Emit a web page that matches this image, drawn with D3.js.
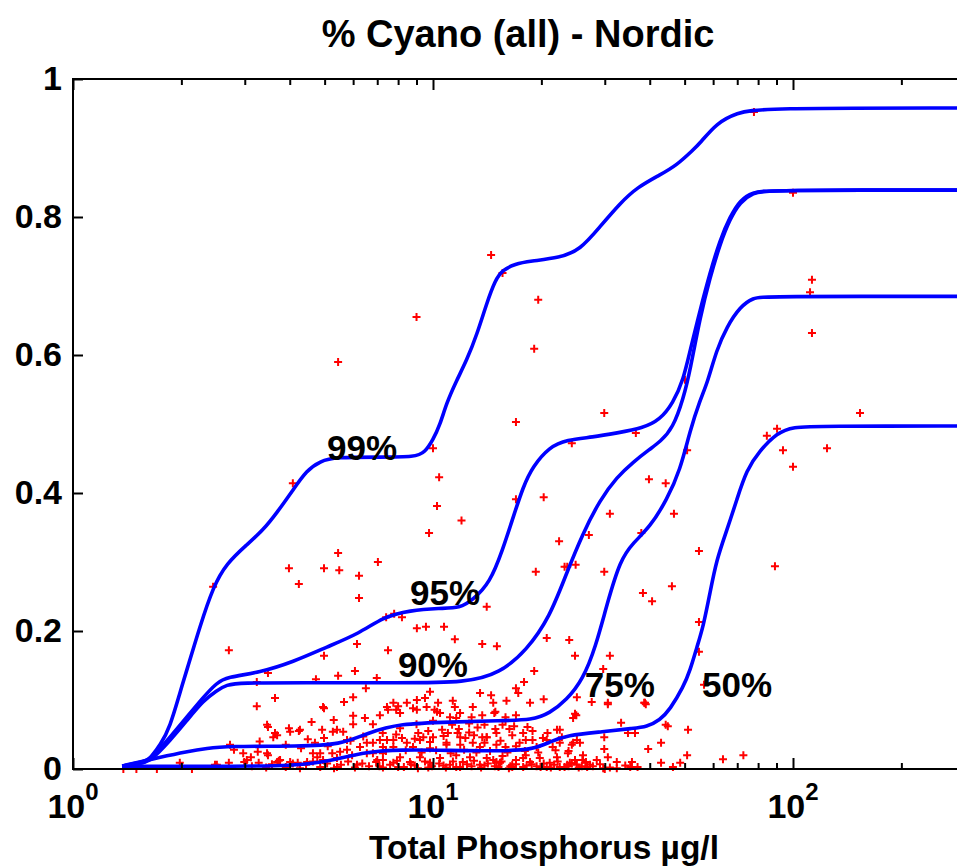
<!DOCTYPE html>
<html><head><meta charset="utf-8">
<script src="https://cdn.jsdelivr.net/npm/d3@7"></script>
<style>
body{margin:0;background:#fff}
svg{display:block}
text{font-family:"Liberation Sans",Arial,Helvetica,sans-serif;font-weight:bold;fill:#000}
</style>
</head><body>
<svg id="chart" width="957" height="868"></svg>
<script>
// ---------------- data ----------------
const chartTitle = "% Cyano (all) - Nordic";
const xAxisLabel = "Total Phosphorus µg/l";
const xMajorTicks = [1, 10, 100];
const xTickExponents = ["0", "1", "2"];
const xMinorTicks = [2,3,4,5,6,7,8,9,20,30,40,50,60,70,80,90,200,300];
const yTicks = [0, 0.2, 0.4, 0.6, 0.8, 1];
const yTickLabels = ["0", "0.2", "0.4", "0.6", "0.8", "1"];
const quantileNames = ["99%", "95%", "90%", "75%", "50%"];

// quantile curves: [total phosphorus, fraction cyano]
const q99 = [[1.37,0.004],[1.49,0.007],[1.59,0.01],[1.64,0.016],[1.75,0.035],[1.86,0.061],[1.98,0.11],[2.07,0.143],[2.25,0.206],[2.45,0.264],[2.67,0.298],[3.04,0.325],[3.37,0.346],[3.68,0.371],[4.08,0.404],[4.46,0.433],[4.86,0.446],[5.34,0.452],[7.12,0.452],[8.93,0.452],[9.5,0.459],[10.0,0.477],[10.46,0.499],[10.9,0.53],[11.6,0.562],[12.4,0.592],[13.25,0.63],[14.1,0.675],[14.9,0.709],[15.6,0.723],[16.9,0.732],[18.6,0.736],[22.5,0.741],[25.6,0.752],[29.1,0.786],[33.1,0.82],[36.9,0.843],[42.7,0.861],[47.5,0.875],[52.7,0.897],[55.2,0.907],[61.3,0.936],[69.8,0.951],[81,0.958],[300,0.958]];
const q95 = [[1.37,0.004],[1.54,0.01],[1.64,0.013],[1.86,0.046],[2.07,0.075],[2.3,0.104],[2.51,0.125],[2.67,0.133],[3.31,0.14],[4.08,0.155],[5.08,0.177],[6.27,0.197],[7.26,0.22],[8.63,0.23],[10.46,0.233],[11.89,0.233],[12.9,0.245],[14.4,0.27],[15.6,0.317],[16.7,0.365],[17.8,0.409],[18.9,0.438],[21.1,0.467],[23.5,0.477],[27.8,0.481],[32.4,0.487],[38.3,0.494],[42.7,0.506],[46.4,0.53],[49.6,0.564],[51.8,0.607],[55.2,0.665],[58.8,0.719],[62.7,0.767],[66.8,0.8],[71.3,0.825],[77.5,0.836],[84.6,0.839],[300,0.839]];
const q90 = [[1.37,0.004],[1.54,0.008],[1.64,0.011],[1.86,0.041],[2.07,0.07],[2.3,0.099],[2.51,0.114],[2.67,0.122],[2.91,0.125],[4.27,0.125],[8.1,0.125],[12.4,0.125],[15.35,0.139],[18.2,0.172],[21.1,0.22],[23.5,0.284],[26.1,0.342],[29.1,0.39],[32.4,0.423],[36.0,0.445],[40.1,0.464],[42.7,0.474],[46.4,0.494],[49.6,0.537],[51.8,0.578],[55.2,0.655],[58.8,0.712],[62.7,0.761],[66.8,0.797],[71.3,0.822],[77.5,0.835],[84.6,0.839],[300,0.839]];
const q75 = [[1.37,0.004],[1.41,0.006],[1.75,0.017],[2.07,0.025],[2.36,0.03],[2.67,0.033],[4.27,0.033],[5.52,0.035],[6.56,0.052],[8.1,0.066],[11.15,0.068],[15.35,0.07],[18.9,0.071],[21.1,0.081],[23.5,0.1],[26.1,0.13],[28.3,0.177],[30.4,0.238],[33.1,0.303],[36.0,0.328],[40.1,0.351],[44.6,0.39],[48.6,0.433],[51.8,0.491],[55.2,0.535],[57.8,0.559],[61.3,0.607],[65.5,0.641],[71.3,0.67],[77.5,0.683],[83.6,0.685],[300,0.685]];
const q50 = [[1.37,0.004],[2.25,0.004],[4.27,0.004],[5.27,0.013],[6.56,0.025],[8.1,0.028],[11.15,0.027],[15.35,0.026],[18.9,0.028],[21.1,0.039],[23.5,0.049],[29.7,0.054],[36.0,0.059],[39.2,0.061],[42.7,0.071],[45.5,0.086],[49.6,0.119],[51.8,0.143],[54.1,0.177],[56.3,0.206],[58.8,0.255],[61.3,0.303],[65.5,0.346],[69.8,0.39],[74.2,0.433],[81,0.462],[90.3,0.487],[100,0.496],[118.9,0.497],[300,0.497]];
const quantileCurves = [q99, q95, q90, q75, q50];
// where each quantile label sits: [total phosphorus, fraction] of its left baseline
const quantileLabelAt = [[5.08,0.448],[8.63,0.238],[7.99,0.133],[26.4,0.104],[55.9,0.104]];

// lake samples: [total phosphorus µg/l, fraction cyano]
const samples = [
[14.5,0.745],[9.0,0.655],[5.45,0.59],[19.6,0.68],[19.1,0.609],[17.0,0.503],[10.4,0.423],[17.0,0.391],[20.3,0.394],[10.26,0.381],
[12.0,0.36],[9.75,0.342],[22.4,0.33],[4.08,0.414],[5.45,0.313],[7.03,0.3],[3.98,0.291],[4.98,0.291],[5.49,0.288],[6.23,0.28],
[4.24,0.268],[6.23,0.248],[19.3,0.286],[23.6,0.293],[24.9,0.296],[14.1,0.235],[7.41,0.22],[7.8,0.225],[8.2,0.22],[9.02,0.204],
[9.56,0.206],[10.73,0.206],[29.9,0.516],[39.8,0.42],[44.3,0.414],[50.8,0.462],[31.0,0.37],[37.9,0.342],[29.9,0.286],[46.1,0.265],
[38.3,0.255],[40.6,0.243],[11.5,0.188],[13.7,0.181],[15.05,0.178],[7.5,0.172],[6.15,0.181],[4.98,0.164],[5.45,0.135],[4.73,0.13],
[6.07,0.142],[6.98,0.132],[20.7,0.19],[23.9,0.187],[24.8,0.164],[19.1,0.142],[29.7,0.145],[31.0,0.164],[27.6,0.097],[38.8,0.096],
[33.3,0.067],[51.1,0.057],[44.3,0.064],[2.71,0.172],[3.48,0.139],[3.24,0.126],[6.51,0.117],[6.0,0.104],[5.66,0.097],[3.64,0.103],
[3.24,0.091],[4.98,0.088],[6.0,0.077],[6.47,0.074],[6.0,0.065],[6.81,0.065],[7.12,0.078],[3.48,0.061],[3.98,0.059],[4.24,0.055],
[3.69,0.049],[4.49,0.043],[4.98,0.045],[5.41,0.057],[5.63,0.054],[2.73,0.035],[2.97,0.023],[3.12,0.017],[3.26,0.025],[3.48,0.02],
[3.76,0.013],[2.99,0.01],[4.01,0.01],[4.21,0.009],[4.47,0.01],[4.64,0.023],[4.77,0.017],[4.95,0.013],[5.25,0.023],[5.41,0.016],
[5.77,0.028],[5.96,0.02],[6.27,0.032],[6.55,0.023],[6.81,0.038],[7.12,0.042],[7.26,0.023],[7.0,0.013],[6.15,0.006],[5.41,0.003],
[2.48,0.006],[2.71,0.009],[1.38,0],[1.5,0],[1.71,0],[1.98,0.009],[2.51,0.006],[3.04,0.013],[3.69,0.01],[2.14,0],
[3.46,0.064],[3.64,0.052],[3.6,0.046],[4.27,0.057],[4.95,0.09],[4.92,0.057],[7.45,0.09],[8.1,0.081],[8.46,0.096],[9.02,0.086],
[9.6,0.09],[10.26,0.083],[11.15,0.075],[11.89,0.081],[12.9,0.09],[13.7,0.078],[14.7,0.096],[7.9,0.086],[5.27,0.054],[4.01,0.054],
[3.46,0.023],[4.86,0.023],[5.52,0.025],[5.77,0.042],[6.55,0.038],[6.81,0.023],[7.26,0.032],[7.76,0.042],[8.46,0.038],[9.2,0.042],
[10.0,0.046],[10.9,0.038],[11.9,0.046],[12.9,0.038],[14.1,0.046],
[17.9,0.126],[17.0,0.117],[17.25,0.11],[9.81,0.112],[13.51,0.11],[14.5,0.107],[16.0,0.099],[18.6,0.096],[20.3,0.101],[25.1,0.104],
[9.5,0.103],[9.02,0.1],[11.35,0.099],[7.76,0.096],[8.8,0.088],[10.33,0.096],[10.46,0.081],[10.1,0.086],[11.5,0.09],[11.6,0.074],
[12.8,0.075],[14.9,0.083],[7.5,0.086],[8.0,0.091],[15.9,0.071],[17.0,0.078],[22.1,0.057],[18.3,0.061],[25.0,0.078],[7.25,0.052],
[8.1,0.059],[9.1,0.052],[7.45,0.042],[8.2,0.045],[9.4,0.046],[9.81,0.039],[10.6,0.057],[11.0,0.052],[11.7,0.052],[12.3,0.045],
[13.0,0.049],[14.1,0.046],[15.0,0.052],[16.6,0.049],[18.1,0.042],[20.2,0.045],[22.5,0.038],[25.1,0.042],[7.76,0.032],[8.8,0.032],
[9.81,0.03],[10.9,0.035],[11.9,0.035],[13.5,0.032],[15.0,0.035],[15.9,0.032],[17.0,0.033],[19.4,0.032],[21.5,0.032],[24.5,0.038],
[7.26,0.013],[7.76,0.009],[8.1,0.017],[8.63,0.01],[9.2,0.017],[9.81,0.009],[10.46,0.016],[11.15,0.006],[11.6,0.02],[12.1,0.01],
[12.67,0.017],[13.5,0.006],[14.1,0.016],[15.0,0.01],[15.6,0.019],[16.4,0.004],[17.0,0.013],[18.1,0.02],[18.8,0.007],[19.8,0.016],
[21.1,0.009],[22.1,0.017],[23.6,0.006],[24.8,0.013],[26.1,0.02],[27.3,0.006],
[3.14,0.004],[3.28,0.009],[3.44,0.002],[3.57,0.007],[3.73,0.012],[3.9,0.003],[4.08,0.008],[4.27,0.001],[4.44,0.006],[4.64,0.011],
[4.86,0.003],[5.08,0.008],[5.31,0.001],[5.55,0.006],[5.81,0.011],[6.07,0.002],[6.36,0.008],[6.64,0.004],[6.95,0.01],[7.26,0.002],
[7.6,0.006],[7.94,0.012],[8.3,0.003],[8.68,0.007],[9.08,0.001],[9.5,0.011],[9.94,0.004],[10.4,0.008],[10.86,0.002],[11.36,0.011],
[11.89,0.003],[12.43,0.007],[13.0,0.012],[13.6,0.002],[14.2,0.008],[14.85,0.004],[15.5,0.011],[16.25,0.001],[17.0,0.007],[17.8,0.003],
[18.6,0.01],[19.4,0.004],[20.3,0.008],[21.25,0.002],[22.2,0.011],[23.2,0.003],[24.3,0.008],[25.4,0.002],[26.6,0.01],[27.8,0.004],
[29.1,0.007],[31.0,0.002],[34.2,0.005],
[30.6,0.094],[39.0,0.094],[24.8,0.08],[24.5,0.074],[44.9,0.062],[34.8,0.052],[36.4,0.052],[25.6,0.038],[24.3,0.035],[43.0,0.038],
[29.9,0.029],[39.6,0.029],[50.8,0.02],[72.8,0.02],[63.9,0.014],[26.0,0.013],[30.6,0.017],[32.4,0.01],[35.7,0.01],[43.0,0.009],
[48.6,0.009],[24.0,0.009],[25.1,0.006],[26.8,0.003],[30.0,0],[35.3,0.003],[37.0,0.003],[46.4,0.003],[29.9,0.046],[30.6,0.096],
[38.6,0.096],[22.5,0.057],[20.7,0.042],[18.9,0.042],[17.8,0.052],[15.9,0.075],[14.8,0.081],[13.9,0.064],[13.7,0.046],[23.7,0.023],
[28.5,0.013],[26.5,0.009],[14.7,0.013],[15.35,0.009],[16.6,0.003],[17.8,0.016],[20.7,0.003],[22.5,0.003],[29.7,0.001],[32.4,0.001],
[112.9,0.709],[111.5,0.691],[112.9,0.632],[153.5,0.516],[84.6,0.483],[90.3,0.493],[93.8,0.462],[124.3,0.465],[100,0.438],[77.9,0.952],
[100,0.835],[89.1,0.294],[54.8,0.213],[54.8,0.17],[56.6,0.122],[54.8,0.316],[46.7,0.37],[36.6,0.487],[24.3,0.472],[27.1,0.339],
[23.2,0.293],[50.1,0.564],[15.6,0.719],[10.0,0.465],[2.45,0.264],
[7.4,0.026],[7.9,0.05],[8.4,0.027],[8.9,0.044],[9.3,0.024],[9.7,0.055],[10.2,0.027],[10.7,0.048],[11.2,0.023],[11.8,0.058],
[12.2,0.028],[12.6,0.053],[13.2,0.024],[13.9,0.038],[14.4,0.026],[14.9,0.058],[15.4,0.041],[16.1,0.024],[16.8,0.062],[17.4,0.038],
[18.0,0.026],[18.9,0.055],[19.6,0.024],[20.8,0.052],[21.9,0.027],[22.8,0.046],[23.8,0.026],[9.0,0.065],[10.0,0.07],[11.3,0.064],
[12.6,0.066],[13.3,0.06],[15.6,0.064],[16.3,0.058],
[7.1,0.004],[8.0,0.003],[8.9,0.005],[9.7,0.002],[10.7,0.005],[11.6,0.003],[12.8,0.004],[13.9,0.005],[15.2,0.003],[16.6,0.006],
[18.2,0.005],[19.9,0.003],[21.7,0.006],[23.8,0.004],[25.9,0.004],
[3.9,0.035],[4.3,0.03],[4.7,0.038],[5.1,0.033],[5.9,0.041],[6.4,0.047],[3.3,0.04],[2.8,0.028],[5.3,0.071],[4.6,0.068]
];

// ---------------- drawing ----------------
const svg = d3.select("#chart");
svg.append("rect").attr("width", 957).attr("height", 868).attr("fill", "#fff");

const x = d3.scaleLog().domain([1, 300]).range([73, 73 + 360 * Math.log10(300)]);
const y = d3.scaleLinear().domain([0, 1]).range([769, 79]);
const [x0, x1] = x.range();
const [yb, yt] = y.range();

svg.append("defs").append("clipPath").attr("id", "plotClip")
  .append("rect").attr("x", x0).attr("y", yt).attr("width", x1 - x0).attr("height", yb - yt);

// samples (red plus signs)
const plus = "M-4,0H4M0,-4V4";
svg.append("g").selectAll("path").data(samples).join("path")
  .attr("d", plus)
  .attr("transform", d => `translate(${x(d[0])},${y(d[1])})`)
  .attr("stroke", "#ff0000").attr("stroke-width", 2).attr("fill", "none");

// quantile curves
const line = d3.line().x(d => x(d[0])).y(d => y(d[1])).curve(d3.curveBasis);
svg.append("g").attr("clip-path", "url(#plotClip)")
  .selectAll("path").data(quantileCurves).join("path")
  .attr("d", line)
  .attr("fill", "none").attr("stroke", "#0000ff").attr("stroke-width", 3.6)
  .attr("stroke-linejoin", "round");

// quantile labels
svg.append("g").selectAll("text").data(quantileNames).join("text")
  .attr("x", (d, i) => x(quantileLabelAt[i][0]))
  .attr("y", (d, i) => y(quantileLabelAt[i][1]))
  .attr("font-size", 35)
  .text(d => d);

// axes box
svg.append("rect").attr("x", x0).attr("y", yt).attr("width", x1 - x0).attr("height", yb - yt)
  .attr("fill", "none").attr("stroke", "#000").attr("stroke-width", 2);

function styleAxis(g) {
  g.select(".domain").remove();
  g.selectAll(".tick line").attr("stroke", "#000").attr("stroke-width", 2);
}
// x major/minor ticks, bottom and top
svg.append("g").attr("transform", `translate(0,${yb})`)
  .call(d3.axisBottom(x).tickValues(xMajorTicks).tickSizeInner(-11).tickSizeOuter(0).tickFormat(""))
  .call(styleAxis);
svg.append("g").attr("transform", `translate(0,${yb})`)
  .call(d3.axisBottom(x).tickValues(xMinorTicks).tickSizeInner(-6).tickSizeOuter(0).tickFormat(""))
  .call(styleAxis);
svg.append("g").attr("transform", `translate(0,${yt})`)
  .call(d3.axisTop(x).tickValues(xMajorTicks).tickSizeInner(-11).tickSizeOuter(0).tickFormat(""))
  .call(styleAxis);
svg.append("g").attr("transform", `translate(0,${yt})`)
  .call(d3.axisTop(x).tickValues(xMinorTicks).tickSizeInner(-6).tickSizeOuter(0).tickFormat(""))
  .call(styleAxis);
// y ticks
const yAxis = svg.append("g").attr("transform", `translate(${x0},0)`)
  .call(d3.axisLeft(y).tickValues(yTicks).tickSizeInner(-10).tickSizeOuter(0).tickPadding(11)
        .tickFormat((d, i) => yTickLabels[i]))
  .call(styleAxis);
yAxis.selectAll(".tick text").attr("font-size", 34).attr("font-family", null).attr("fill", "#000");
yAxis.attr("font-family", null).attr("font-size", null);

// x tick labels 10^n
const xl = svg.append("g").selectAll("text").data(xMajorTicks).join("text")
  .attr("x", d => x(d)).attr("y", yb + 49)
  .attr("text-anchor", "middle").attr("font-size", 34);
xl.append("tspan").text("10");
xl.append("tspan").attr("dy", -18).attr("font-size", 24).text((d, i) => xTickExponents[i]);

// title and axis label
svg.append("text").attr("x", 518).attr("y", 47).attr("text-anchor", "middle")
  .attr("font-size", 38).text(chartTitle);
svg.append("text").attr("x", 544).attr("y", 859).attr("text-anchor", "middle")
  .attr("font-size", 33.5).text(xAxisLabel);
</script>
</body></html>
